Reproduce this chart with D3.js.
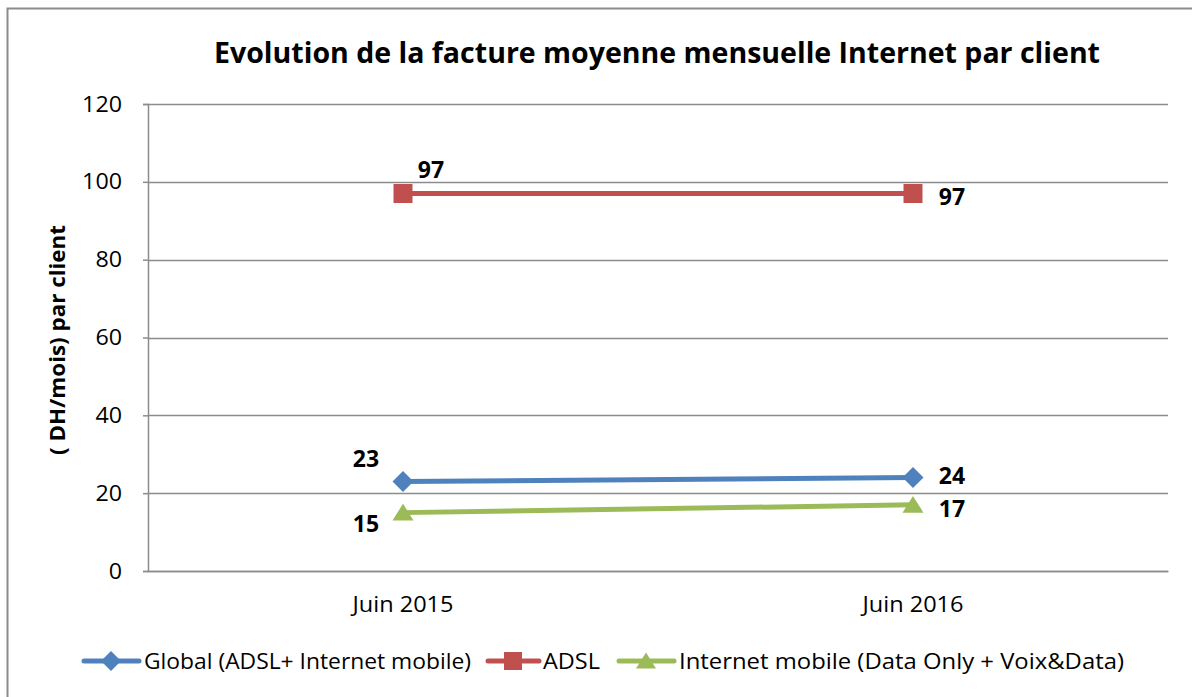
<!DOCTYPE html>
<html>
<head>
<meta charset="utf-8">
<script src="https://cdn.jsdelivr.net/npm/d3@7"></script>
<style>
  body { margin: 0; background: #fff; }
  svg text { font-family: "Open Sans", "Liberation Sans", sans-serif; }
</style>
</head>
<body>
<div id="chart"></div>
<script>
// chart data
var categories = ["Juin 2015", "Juin 2016"];
var seriesNames = ["Global (ADSL+ Internet mobile)", "ADSL", "Internet mobile (Data Only + Voix&Data)"];
var globalValues = [23, 24];
var adslValues = [97, 97];
var mobileValues = [15, 17];
var yTicks = [0, 20, 40, 60, 80, 100, 120];

var colors = ["#4F81BD", "#C0504D", "#9BBB59"];
// excel style markers, r = half size in px
function marker(kind, r) {
  if (kind === "diamond") return "M0," + (-r) + "L" + r + ",0L0," + r + "L" + (-r) + ",0Z";
  if (kind === "square") return "M" + (-r) + "," + (-r) + "h" + (2 * r) + "v" + (2 * r) + "h" + (-2 * r) + "Z";
  return "M0," + (-r * 0.85) + "L" + r + "," + (r * 0.75) + "L" + (-r) + "," + (r * 0.75) + "Z";
}
var shapes = ["diamond", "square", "triangle"];
// where each data label sits relative to its point [dx, dy] per category
var labelPos = [
  [[-37, -23], [39, -3]],
  [[28, -25], [39, 2]],
  [[-37, 10], [39, 3]]
];
var legendWidths = [327, 57, 445];

var series = [globalValues, adslValues, mobileValues].map(function (v, i) {
  return { name: seriesNames[i], values: v, color: colors[i], shape: shapes[i], pos: labelPos[i] };
});

var W = 1192, H = 697;
var margin = { top: 104, right: 24, bottom: 126, left: 148 };
var width = W - margin.left - margin.right,
  height = H - margin.top - margin.bottom;

var svg = d3.select("#chart").append("svg")
  .attr("width", W)
  .attr("height", H);

// outer chart border
svg.append("rect")
  .attr("x", 7.5).attr("y", 8.5)
  .attr("width", W + 10).attr("height", H + 10)
  .attr("fill", "none")
  .attr("stroke", "#8c8c8c")
  .attr("stroke-width", 2);

svg.append("text")
  .attr("x", 657).attr("y", 63)
  .attr("text-anchor", "middle")
  .attr("font-size", 29)
  .attr("font-weight", "bold")
  .attr("textLength", 886)
  .attr("lengthAdjust", "spacingAndGlyphs")
  .text("Evolution de la facture moyenne mensuelle Internet par client");

var g = svg.append("g")
  .attr("transform", "translate(" + margin.left + "," + margin.top + ")");

var x = d3.scaleBand().domain(categories).range([0, width]);
var y = d3.scaleLinear().domain([0, 120]).range([height, 0]);

// gridlines
g.selectAll(".grid")
  .data(yTicks)
  .enter()
  .append("line")
  .attr("x1", 0).attr("x2", width)
  .attr("y1", function (d) { return Math.round(y(d)) + 0.5 })
  .attr("y2", function (d) { return Math.round(y(d)) + 0.5 })
  .attr("stroke", "#8c8c8c")
  .attr("stroke-width", 1.5);

// y axis
var yAxis = g.append("g")
  .call(d3.axisLeft(y).tickValues(yTicks).tickSize(5).tickPadding(21));
yAxis.select(".domain").attr("stroke", "#8c8c8c").attr("stroke-width", 1.5);
yAxis.selectAll(".tick line").attr("stroke", "#8c8c8c").attr("stroke-width", 1.5);
yAxis.selectAll("text")
  .attr("font-size", 22)
  .attr("font-family", "'Open Sans', sans-serif")
  .attr("textLength", function (d) { return String(d).length * 13.3 })
  .attr("lengthAdjust", "spacingAndGlyphs")
  .attr("fill", "#000");

// x axis
var xAxis = g.append("g")
  .attr("transform", "translate(0," + height + ")")
  .call(d3.axisBottom(x).tickSize(0).tickPadding(26));
xAxis.select(".domain").attr("stroke", "#8c8c8c").attr("stroke-width", 1.5);
xAxis.selectAll("text")
  .attr("font-size", 21)
  .attr("font-family", "'Open Sans', sans-serif")
  .attr("textLength", 101)
  .attr("lengthAdjust", "spacingAndGlyphs")
  .attr("fill", "#000");

svg.append("text")
  .attr("transform", "translate(65,340) rotate(-90)")
  .attr("text-anchor", "middle")
  .attr("font-size", 21)
  .attr("font-weight", "bold")
  .attr("textLength", 230)
  .attr("lengthAdjust", "spacingAndGlyphs")
  .text("( DH/mois) par client");

var line = d3.line()
  .x(function (d, i) { return x(categories[i]) + x.bandwidth() / 2 })
  .y(function (d) { return y(d) });

series.forEach(function (s) {
  g.append("path")
    .datum(s.values)
    .attr("d", line)
    .attr("fill", "none")
    .attr("stroke", s.color)
    .attr("stroke-width", 5);

  g.selectAll(null)
    .data(s.values)
    .enter()
    .append("path")
    .attr("transform", function (d, i) {
      return "translate(" + (x(categories[i]) + x.bandwidth() / 2) + "," + y(d) + ")";
    })
    .attr("d", marker(s.shape, s.shape === "square" ? 9.5 : 10.5))
    .attr("fill", s.color);

  g.selectAll(null)
    .data(s.values)
    .enter()
    .append("text")
    .attr("x", function (d, i) { return x(categories[i]) + x.bandwidth() / 2 + s.pos[i][0] })
    .attr("y", function (d, i) { return y(d) + s.pos[i][1] })
    .attr("text-anchor", "middle")
    .attr("dominant-baseline", "central")
    .attr("font-size", 23)
    .attr("font-weight", "bold")
    .text(function (d) { return d });
});

// legend
var legendX = [82, 486, 617];
var legend = svg.selectAll(".legend")
  .data(series)
  .enter()
  .append("g")
  .attr("transform", function (d, i) { return "translate(" + legendX[i] + ",661)" });

legend.append("line")
  .attr("x1", 2).attr("x2", function (d, i) { return i === 1 ? 53 : 57 })
  .attr("stroke", function (d) { return d.color })
  .attr("stroke-width", 5)
  .attr("stroke-linecap", "round");

legend.append("path")
  .attr("transform", function (d, i) { return "translate(" + (i === 1 ? 27 : 29) + ",0)" })
  .attr("d", function (d) { return marker(d.shape, d.shape === "square" ? 9 : 10) })
  .attr("fill", function (d) { return d.color });

legend.append("text")
  .attr("x", function (d, i) { return i === 1 ? 57 : 62 })
  .attr("dominant-baseline", "central")
  .attr("font-size", 21)
  .attr("textLength", function (d, i) { return legendWidths[i] })
  .attr("lengthAdjust", "spacingAndGlyphs")
  .text(function (d) { return d.name });
</script>
</body>
</html>
